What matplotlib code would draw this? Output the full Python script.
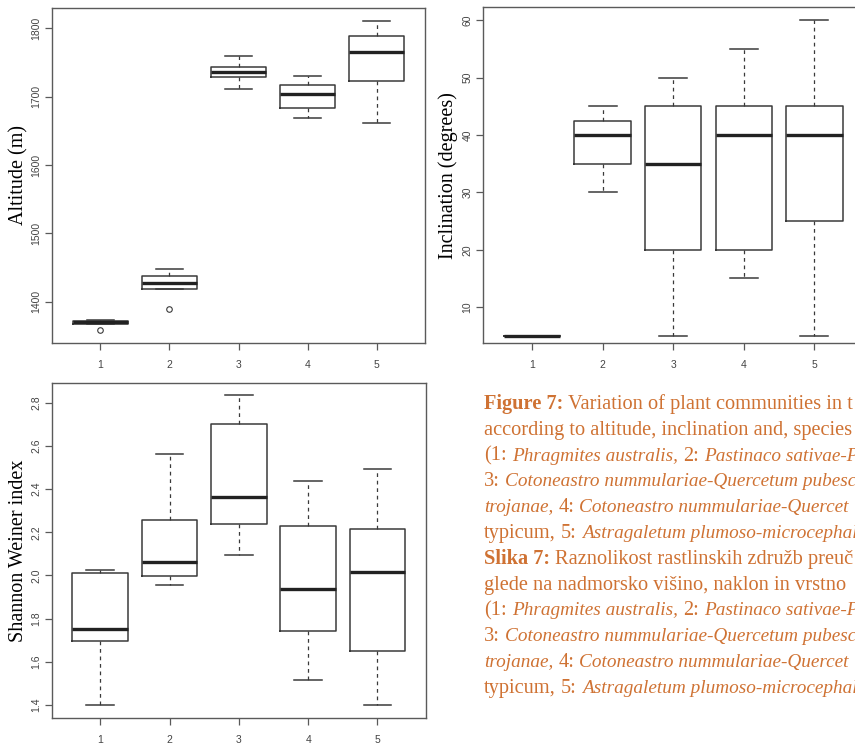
import numpy as np
import matplotlib
matplotlib.use("Agg")
import matplotlib.pyplot as plt

W, H = 855, 747
groups = [1, 2, 3, 4, 5]

# altitude (m)
alt_lo = [1368, 1418, 1711, 1669, 1662]
alt_q1 = [1368, 1418, 1729, 1684, 1723]
alt_med = [1369.5, 1427, 1736.5, 1704, 1766]
alt_q3 = [1372, 1437, 1744, 1717, 1788]
alt_hi = [1373, 1448, 1760, 1730, 1811]
alt_out = [[1358], [1389], [], [], []]
alt_ticks = [1400, 1500, 1600, 1700, 1800]

# inclination (degrees)
inc_lo = [5, 30, 5, 15, 5]
inc_q1 = [5, 35, 20, 20, 25]
inc_med = [5, 40, 35, 40, 40]
inc_q3 = [5, 42.5, 45, 45, 45]
inc_hi = [5, 45, 50, 55, 60]
inc_ticks = [10, 20, 30, 40, 50, 60]

# Shannon Weiner index
sh_lo = [1.40, 1.954, 2.093, 1.514, 1.40]
sh_q1 = [1.698, 1.996, 2.237, 1.743, 1.650]
sh_med = [1.750, 2.064, 2.363, 1.939, 2.017]
sh_q3 = [2.010, 2.258, 2.701, 2.227, 2.213]
sh_hi = [2.024, 2.561, 2.835, 2.437, 2.493]
sh_ticks = [1.4, 1.6, 1.8, 2.0, 2.2, 2.4, 2.6, 2.8]

# caption lines: (text, style, weight)
cap_lines = [
    [("Figure 7:", "normal", "bold"), (" Variation of plant communities in t", "normal", "normal")],
    [("according to altitude, inclination and, species", "normal", "normal")],
    [("(1:", "normal", "normal"), (" Phragmites australis,", "italic", "normal"),
     (" 2:", "normal", "normal"), (" Pastinaco sativae-Po", "italic", "normal")],
    [("3:", "normal", "normal"), (" Cotoneastro nummulariae-Quercetum pubesc", "italic", "normal")],
    [("trojanae,", "italic", "normal"), (" 4:", "normal", "normal"),
     (" Cotoneastro nummulariae-Quercet", "italic", "normal")],
    [("typicum,", "normal", "normal"), (" 5:", "normal", "normal"),
     (" Astragaletum plumoso-microcephal", "italic", "normal")],
    [("Slika 7:", "normal", "bold"), (" Raznolikost rastlinskih združb preuč", "normal", "normal")],
    [("glede na nadmorsko višino, naklon in vrstno", "normal", "normal")],
    [("(1:", "normal", "normal"), (" Phragmites australis,", "italic", "normal"),
     (" 2:", "normal", "normal"), (" Pastinaco sativae-Po", "italic", "normal")],
    [("3:", "normal", "normal"), (" Cotoneastro nummulariae-Quercetum pubesc", "italic", "normal")],
    [("trojanae,", "italic", "normal"), (" 4:", "normal", "normal"),
     (" Cotoneastro nummulariae-Quercet", "italic", "normal")],
    [("typicum,", "normal", "normal"), (" 5:", "normal", "normal"),
     (" Astragaletum plumoso-microcephal", "italic", "normal")],
]

line_c = "#3a3a3a"
frame_c = "#5a5a5a"
cap_c = "#cf7233"


def rbox(ax, lo, q1, med, q3, hi, out=None):
    stats = []
    for i in range(len(lo)):
        stats.append(dict(whislo=lo[i], q1=q1[i], med=med[i], q3=q3[i], whishi=hi[i],
                          fliers=out[i] if out else []))
    ax.bxp(stats, positions=groups, widths=0.8, capwidths=0.4,
           boxprops=dict(color=line_c, lw=1.1),
           medianprops=dict(color="#222222", lw=2.4, solid_capstyle="butt"),
           whiskerprops=dict(color=line_c, lw=0.9, ls=(0, (3, 3))),
           capprops=dict(color=line_c, lw=1.1),
           flierprops=dict(marker="o", mfc="none", mec=line_c, ms=4, mew=0.8))


def style(ax, yticks, ylabel, labx, fmt="{:g}"):
    ax.set_xlim(0.3, 5.7)
    ax.set_xticks(groups)
    ax.set_xticklabels([str(g) for g in groups])
    ax.set_yticks(yticks)
    ax.set_yticklabels([fmt.format(v) for v in yticks], rotation=90, va="center")
    for s in ax.spines.values():
        s.set_color(frame_c)
        s.set_linewidth(1.0)
    ax.tick_params(axis="both", colors=frame_c, length=5, width=0.9,
                   labelsize=7.5, labelcolor="#444444")
    ax.tick_params(axis="x", pad=7)
    ax.tick_params(axis="y", pad=2.5)
    for lab in ax.get_xticklabels() + ax.get_yticklabels():
        lab.set_fontfamily("Liberation Sans")
    ax.set_ylabel(ylabel, fontsize=14.5, fontfamily="Liberation Serif", va="center")
    ax.yaxis.set_label_coords(labx, 0.5)


fig = plt.figure(figsize=(W / 100, H / 100), dpi=100)

ax1 = fig.add_axes([52 / W, 1 - 343 / H, 373 / W, 335 / H])
rbox(ax1, alt_lo, alt_q1, alt_med, alt_q3, alt_hi, alt_out)
ax1.set_ylim(1339.5, 1829.7)
style(ax1, alt_ticks, "Altitude (m)", -0.088)

ax2 = fig.add_axes([482.7 / W, 1 - 343.3 / H, 381 / W, 336 / H])
rbox(ax2, inc_lo, inc_q1, inc_med, inc_q3, inc_hi)
ax2.set_ylim(3.7, 62.27)
style(ax2, inc_ticks, "Inclination (degrees)", -0.091)

ax3 = fig.add_axes([51.7 / W, 1 - 718.3 / H, 374.3 / W, 335.6 / H])
rbox(ax3, sh_lo, sh_q1, sh_med, sh_q3, sh_hi)
ax3.set_ylim(1.338, 2.893)
style(ax3, sh_ticks, "Shannon Weiner index", -0.089, fmt="{:.1f}")

# caption, drawn piece by piece so bold/italic can be mixed on a line
renderer = fig.canvas.get_renderer()
fs = 14.7
fs_it = 13.9
for i, segs in enumerate(cap_lines):
    x = 484
    y = 409 + 25.8 * i
    for txt, st, wt in segs:
        size = fs_it if st == "italic" else fs
        if txt.startswith(" "):
            x += 0.25 * fs * 100 / 72
            txt = txt.lstrip()
        t = fig.text(x / W, 1 - y / H, txt, fontsize=size, fontstyle=st, fontweight=wt,
                     fontfamily="Liberation Serif", color=cap_c, va="baseline", ha="left")
        x += t.get_window_extent(renderer).width

fig.savefig("out.png", dpi=100)
